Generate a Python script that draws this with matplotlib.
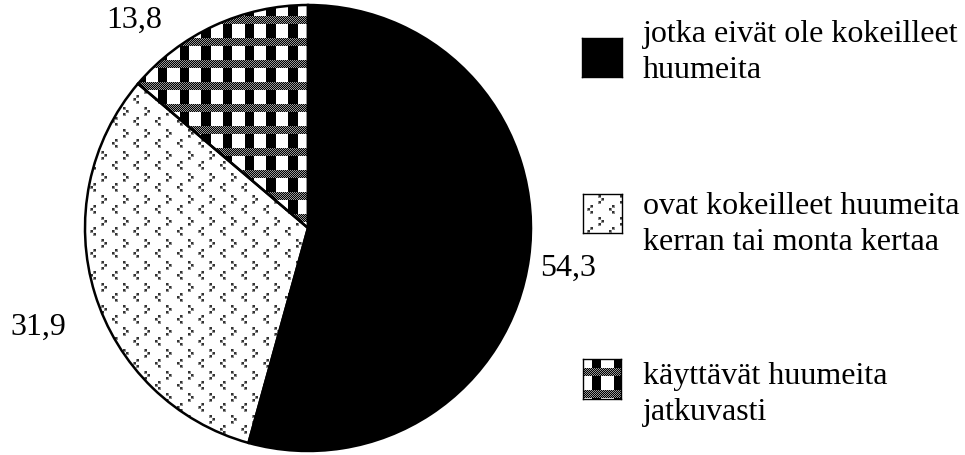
import numpy as np
import matplotlib
matplotlib.use('Agg')
import matplotlib.pyplot as plt
from matplotlib import font_manager

# ---- data ----
categories = ['jotka eivät ole kokeilleet\nhuumeita',
              'ovat kokeilleet huumeita\nkerran tai monta kertaa',
              'käyttävät huumeita\njatkuvasti']
values = [54.3, 31.9, 13.8]
value_labels = ['54,3', '31,9', '13,8']

W, H = 965, 456
names = {f.name for f in font_manager.fontManager.ttflist}
FONT = 'Liberation Serif' if 'Liberation Serif' in names else 'DejaVu Serif'
plt.rcParams['font.family'] = 'serif'
plt.rcParams['font.serif'] = [FONT, 'DejaVu Serif']
FS = 23

fig = plt.figure(figsize=(W / 100, H / 100), dpi=100)
fig.patch.set_facecolor('white')


def checker(x, y):
    img = np.ones(x.shape)
    ym = np.mod(y - 17, 22.0)
    xm = np.mod(x - 223, 21.7)
    band = ym < 8
    dither = (np.floor(x) + np.floor(y)) % 2 == 0
    img[band & dither] = 0.0
    img[band & ~dither] = 0.6
    img[(~band) & (xm < 9.5)] = 0.0
    return img


def dotted(x, y):
    img = np.ones(x.shape)
    px, py = 21.6, 22.0
    for gx, gy, dots in [(155, 206, [(3, 0), (0, 3), (3, 6)]),
                         (166, 218, [(0, 0), (3, 3), (0, 6)])]:
        xm = np.mod(x - gx, px)
        ym = np.mod(y - gy, py)
        for a, b in dots:
            m = (xm >= a) & (xm < a + 3) & (ym >= b) & (ym < b + 3)
            img[m] = 0.55
            m = (xm >= a + 0.5) & (xm < a + 2.5) & (ym >= b + 0.5) & (ym < b + 2.5)
            img[m] = 0.2
    return img


def grid(x0, y0, w, h):
    yy, xx = np.mgrid[0:h, 0:w]
    return xx + x0 + 0.5, yy + y0 + 0.5


# ---- pie ----
cx, cy, r = 308, 229, 223
ax = fig.add_axes([(cx - r) / W, (H - cy - r) / H, 2 * r / W, 2 * r / H])
wedges, _ = ax.pie(values, startangle=90, counterclock=False, radius=1,
                   colors=['black', 'white', 'white'],
                   wedgeprops=dict(edgecolor='black', linewidth=1.8))
ax.axis('off')

gx, gy = grid(cx - r, cy - r, 2 * r, 2 * r)
for wedge, fn in [(wedges[1], dotted), (wedges[2], checker)]:
    im = ax.imshow(fn(gx, gy), extent=(-1, 1, -1, 1), origin='upper',
                   interpolation='nearest', cmap='gray', vmin=0, vmax=1,
                   zorder=0.5)
    im.set_clip_path(wedge)
    wedge.set_facecolor('none')
    wedge.set_zorder(2)
ax.set_xlim(-1, 1)
ax.set_ylim(-1, 1)


def ftext(x, y, s, **kw):
    fig.text(x / W, 1 - y / H, s, fontsize=FS, **kw)


# value labels
for lab, (x, y) in zip(value_labels, [(568, 268), (38, 327), (134, 20)]):
    ftext(x, y, lab, ha='center', va='center')

# ---- legend ----
boxes = [(582, 39, 40, 39), (583, 195, 39, 39), (583, 360, 38, 40)]
fills = [None, dotted, checker]
text_base = [42, 214, 384]
for (bx, by, bw, bh), fn, cat, tb in zip(boxes, fills, categories, text_base):
    lax = fig.add_axes([bx / W, 1 - (by + bh) / H, bw / W, bh / H])
    if fn is None:
        lax.set_facecolor('black')
    else:
        lgx, lgy = grid(bx, by, bw, bh)
        lax.imshow(fn(lgx, lgy), extent=(0, 1, 0, 1), origin='upper',
                   interpolation='nearest', cmap='gray', vmin=0, vmax=1,
                   aspect='auto')
    lax.set_xticks([])
    lax.set_yticks([])
    for s in lax.spines.values():
        s.set_color('black')
        s.set_linewidth(1.0)
    lines = cat.split('\n')
    for k, line in enumerate(lines):
        ftext(643, tb + 36 * k, line, ha='left', va='baseline')

fig.savefig('out.png', dpi=100, facecolor='white')
